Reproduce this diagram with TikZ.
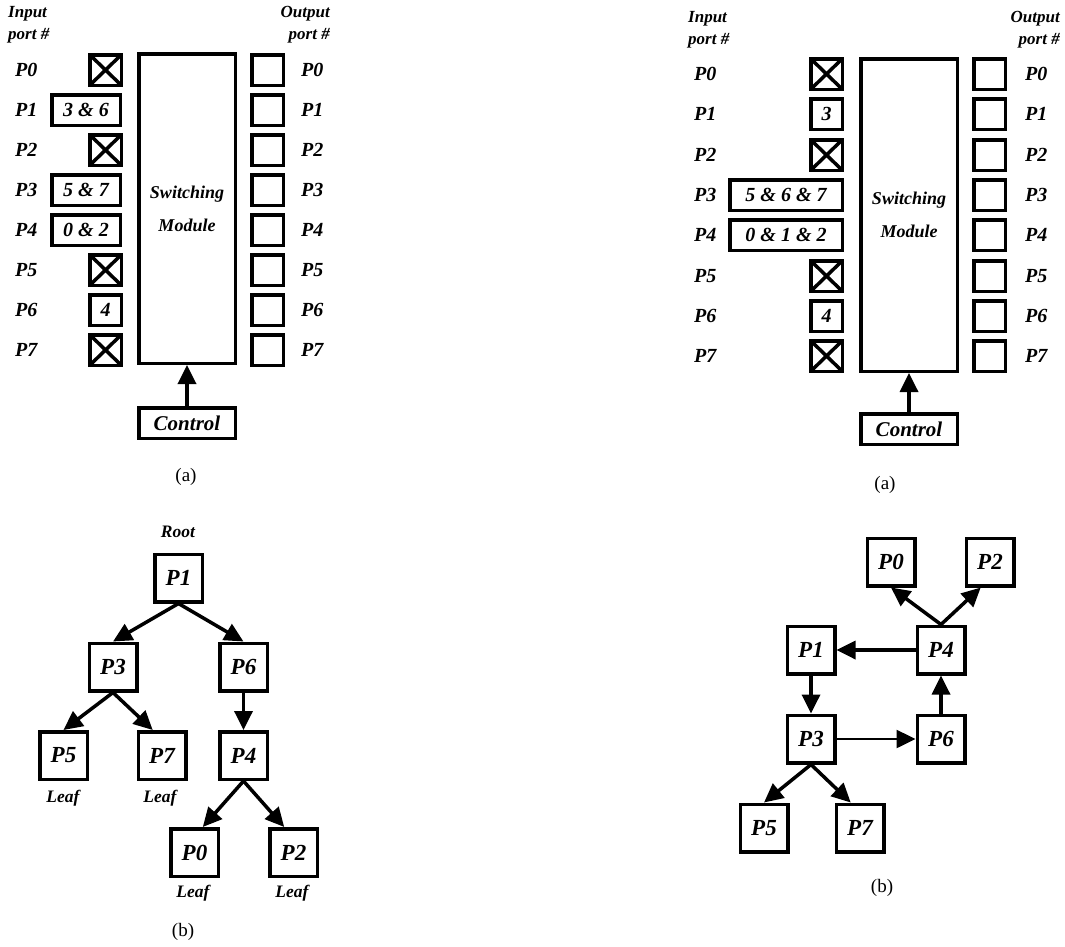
\documentclass[tikz,border=0pt]{standalone}
\usepackage{fontspec}
\setmainfont{Liberation Serif}
\usetikzlibrary{arrows.meta}

\begin{document}
\begin{tikzpicture}[
  x=1pt, y=-1pt,
  every node/.style={inner sep=0pt, font=\bfseries\itshape\fontsize{20}{22}\selectfont},
  portlbl/.style={anchor=west},
  headlbl/.style={font=\bfseries\itshape\fontsize{17}{22}\selectfont},
  smalllbl/.style={font=\bfseries\itshape\fontsize{17.5}{19}\selectfont},
  caption/.style={font=\normalfont\fontsize{19}{21}\selectfont},
  inbox/.style={draw, line width=3.5pt, minimum width=31.5, minimum height=30.5},
  widebox/.style={inbox, minimum width=68.5},
  xbox/.style={inbox, path picture={
      \draw[line width=3.5pt] (path picture bounding box.south west) -- (path picture bounding box.north east)
                              (path picture bounding box.north west) -- (path picture bounding box.south east);}},
  switchbox/.style={draw, line width=3.5pt, minimum width=96.5, align=center,
                    font=\bfseries\itshape\fontsize{18}{33}\selectfont},
  ctrlbox/.style={draw, line width=3.5pt, minimum width=96.5, minimum height=30.5,
                  font=\bfseries\itshape\fontsize{21}{22}\selectfont},
  portnode/.style={draw, line width=3.5pt, minimum size=47.5, font=\bfseries\itshape\fontsize{23}{24}\selectfont},
  arr/.style={line width=3.5pt, -{Triangle[length=19pt,width=18pt]}}
]
  \useasboundingbox (0,0) rectangle (1065,946);

  % (a) left: one tree per source port
  \node[headlbl, align=left, anchor=west]  (inA)  at (8,25)   {Input\\port \#};
  \node[headlbl, align=right, anchor=east] (outA) at (330,25) {Output\\port \#};

  \node[portlbl] (la0) at (15,70)  {P0};
  \node[portlbl] (la1) at (15,110) {P1};
  \node[portlbl] (la2) at (15,150) {P2};
  \node[portlbl] (la3) at (15,190) {P3};
  \node[portlbl] (la4) at (15,230) {P4};
  \node[portlbl] (la5) at (15,270) {P5};
  \node[portlbl] (la6) at (15,310) {P6};
  \node[portlbl] (la7) at (15,350) {P7};

  \node[xbox]    (ia0) at (105.5,70)  {};
  \node[widebox] (ia1) at (86,110)    {3 \& 6};
  \node[xbox]    (ia2) at (105.5,150) {};
  \node[widebox] (ia3) at (86,190)    {5 \& 7};
  \node[widebox] (ia4) at (86,230)    {0 \& 2};
  \node[xbox]    (ia5) at (105.5,270) {};
  \node[inbox]   (ia6) at (105.5,310) {4};
  \node[xbox]    (ia7) at (105.5,350) {};

  \node[switchbox, minimum height=309.5] (swA) at (187,208.5) {Switching\\Module};

  \node[inbox] (oa0) at (267.5,70)  {};
  \node[inbox] (oa1) at (267.5,110) {};
  \node[inbox] (oa2) at (267.5,150) {};
  \node[inbox] (oa3) at (267.5,190) {};
  \node[inbox] (oa4) at (267.5,230) {};
  \node[inbox] (oa5) at (267.5,270) {};
  \node[inbox] (oa6) at (267.5,310) {};
  \node[inbox] (oa7) at (267.5,350) {};

  \node[portlbl] (ra0) at (301,70)  {P0};
  \node[portlbl] (ra1) at (301,110) {P1};
  \node[portlbl] (ra2) at (301,150) {P2};
  \node[portlbl] (ra3) at (301,190) {P3};
  \node[portlbl] (ra4) at (301,230) {P4};
  \node[portlbl] (ra5) at (301,270) {P5};
  \node[portlbl] (ra6) at (301,310) {P6};
  \node[portlbl] (ra7) at (301,350) {P7};

  \node[ctrlbox] (ctrlA) at (187,423) {Control};
  \draw[arr] (ctrlA.north) -- (swA.south);
  \node[caption] (capA) at (186,477) {(a)};

  % (a) right
  \node[headlbl, align=left, anchor=west]  (inB)  at (688,30)  {Input\\port \#};
  \node[headlbl, align=right, anchor=east] (outB) at (1060,30) {Output\\port \#};

  \node[portlbl] (lb0) at (694,74)  {P0};
  \node[portlbl] (lb1) at (694,114) {P1};
  \node[portlbl] (lb2) at (694,155) {P2};
  \node[portlbl] (lb3) at (694,195) {P3};
  \node[portlbl] (lb4) at (694,235) {P4};
  \node[portlbl] (lb5) at (694,276) {P5};
  \node[portlbl] (lb6) at (694,316) {P6};
  \node[portlbl] (lb7) at (694,356) {P7};

  \node[xbox]                        (ib0) at (826.5,74)  {};
  \node[inbox]                       (ib1) at (826.5,114) {3};
  \node[xbox]                        (ib2) at (826.5,155) {};
  \node[widebox, minimum width=112.5] (ib3) at (786,195)  {5 \& 6 \& 7};
  \node[widebox, minimum width=112.5] (ib4) at (786,235)  {0 \& 1 \& 2};
  \node[xbox]                        (ib5) at (826.5,276) {};
  \node[inbox]                       (ib6) at (826.5,316) {4};
  \node[xbox]                        (ib7) at (826.5,356) {};

  \node[switchbox, minimum height=312.5] (swB) at (909,215) {Switching\\Module};

  \node[inbox] (ob0) at (989.5,74)  {};
  \node[inbox] (ob1) at (989.5,114) {};
  \node[inbox] (ob2) at (989.5,155) {};
  \node[inbox] (ob3) at (989.5,195) {};
  \node[inbox] (ob4) at (989.5,235) {};
  \node[inbox] (ob5) at (989.5,276) {};
  \node[inbox] (ob6) at (989.5,316) {};
  \node[inbox] (ob7) at (989.5,356) {};

  \node[portlbl] (rb0) at (1025,74)  {P0};
  \node[portlbl] (rb1) at (1025,114) {P1};
  \node[portlbl] (rb2) at (1025,155) {P2};
  \node[portlbl] (rb3) at (1025,195) {P3};
  \node[portlbl] (rb4) at (1025,235) {P4};
  \node[portlbl] (rb5) at (1025,276) {P5};
  \node[portlbl] (rb6) at (1025,316) {P6};
  \node[portlbl] (rb7) at (1025,356) {P7};

  \node[ctrlbox] (ctrlB) at (909,429) {Control};
  \draw[arr] (ctrlB.north) -- (swB.south);
  \node[caption] (capB) at (885,485) {(a)};

  % (b) left: tree rooted at P1
  \node[smalllbl] (root) at (178,532) {Root};
  \node[portnode] (t1) at (178.5,578) {P1};
  \node[portnode] (t3) at (113,667)   {P3};
  \node[portnode] (t6) at (243.5,667) {P6};
  \node[portnode] (t5) at (63.5,755.5) {P5};
  \node[portnode] (t7) at (162,755.5) {P7};
  \node[portnode] (t4) at (243.5,755.5) {P4};
  \node[portnode] (t0) at (194.5,852.5) {P0};
  \node[portnode] (t2) at (293.5,852.5) {P2};

  \node[smalllbl] (leaf5) at (63,798)  {Leaf};
  \node[smalllbl] (leaf7) at (160,798) {Leaf};
  \node[smalllbl] (leaf0) at (193,893) {Leaf};
  \node[smalllbl] (leaf2) at (292,893) {Leaf};

  \draw[arr] (t1.south) -- (t3.north);
  \draw[arr] (t1.south) -- (t6.north);
  \draw[arr] (t3.south) -- (t5.north);
  \draw[arr] (t3.south) -- (t7.110);
  \draw[arr] (t6.south) -- (t4.north);
  \draw[arr] (t4.south) -- (t0.72);
  \draw[arr] (t4.south) -- (t2.110);
  \node[caption] (capC) at (183,932) {(b)};

  % (b) right: graph
  \node[portnode] (r0) at (891,562) {P0};
  \node[portnode] (r2) at (990,562) {P2};
  \node[portnode] (r1) at (811,650) {P1};
  \node[portnode] (r4) at (941,650) {P4};
  \node[portnode] (r3) at (811,739) {P3};
  \node[portnode] (r6) at (941,739) {P6};
  \node[portnode] (r5) at (764,828) {P5};
  \node[portnode] (r7) at (860,828) {P7};

  \draw[arr] (r4.north) -- (r0.south);
  \draw[arr] (r4.north) -- (r2.250);
  \draw[arr] (r4.west) -- (r1.east);
  \draw[arr] (r1.south) -- (r3.north);
  \draw[arr, line width=2.5pt] (r3.east) -- (r6.west);
  \draw[arr] (r6.north) -- (r4.south);
  \draw[arr] (r3.south) -- (r5.north);
  \draw[arr] (r3.south) -- (r7.110);
  \node[caption] (capD) at (882,888) {(b)};
\end{tikzpicture}
\end{document}
